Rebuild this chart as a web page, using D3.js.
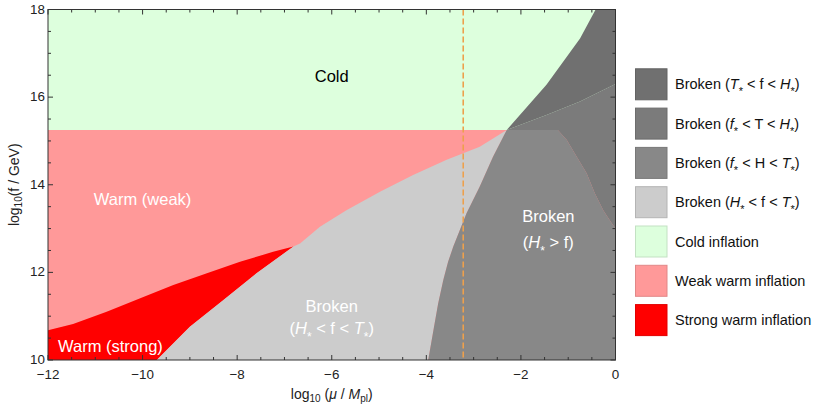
<!DOCTYPE html>
<html><head><meta charset="utf-8">
<script src="https://cdn.jsdelivr.net/npm/d3@7"></script>
<style>
html,body{margin:0;padding:0;background:#fff;}
text{font-family:"Liberation Sans",Arial,sans-serif;}
</style></head>
<body>
<svg id="chart" width="822" height="405"></svg>
<script>
// ---- data (x = log10(mu/Mpl), y = log10(f/GeV)) ----
const xDomain = [-12, 0];
const yDomain = [10, 18];
const xTicks = [-12, -10, -8, -6, -4, -2, 0];
const yTicks = [10, 12, 14, 16, 18];
const coldLevel = 15.25;               // cold / warm boundary
const muMarker = -3.22;                // dashed vertical line
// strong warm upper boundary
const strongUpper = [[-12,10.68],[-11.47,10.82],[-10.76,11.10],[-10.05,11.41],[-9.35,11.71],[-8.64,11.98],[-7.94,12.24],[-7.24,12.47],[-6.81,12.59]];
// upper boundary of the light-grey broken region (H* < f < T*)
const lightUpper = [[-9.70,10.0],[-9.0,10.76],[-8.29,11.37],[-7.59,11.98],[-6.81,12.59],[-6.67,12.66],[-6.25,13.04],[-5.69,13.42],[-4.98,13.84],[-4.28,14.22],[-3.57,14.57],[-3.22,14.72],[-2.87,14.87],[-2.30,15.25]];
const strongLowerCount = 5;  // first 5 points of lightUpper bound the strong region
// H* = f boundary
const hBoundary = [[-3.96,10],[-3.85,10.68],[-3.75,11.29],[-3.64,11.83],[-3.54,12.24],[-3.43,12.59],[-3.15,13.35],[-2.87,13.96],[-2.59,14.64],[-2.30,15.25]];
// T* = f boundary (darkest region, left edge)
const tBoundary = [[-2.30,15.25],[-1.46,16.28],[-0.75,17.34],[-0.42,18]];
// split between darkest and second darkest
const darkSplit = [[-2.30,15.25],[-1.46,15.59],[-0.75,15.90],[0,16.30]];
// curve bounding f* < T < H* below the cold level
const tempCurve = [[-1.22,15.25],[-1.03,15.02],[-0.82,14.64],[-0.61,14.26],[-0.44,13.81],[-0.26,13.42],[-0.08,13.12],[0,13.0]];

const legendLabels = [
  [["Broken ("],["T","i"],["*","s"],[" < f < "],["H","i"],["*","s"],[")"]],
  [["Broken ("],["f","i"],["*","s"],[" < T < "],["H","i"],["*","s"],[")"]],
  [["Broken ("],["f","i"],["*","s"],[" < H < "],["T","i"],["*","s"],[")"]],
  [["Broken ("],["H","i"],["*","s"],[" < f < "],["T","i"],["*","s"],[")"]],
  [["Cold inflation"]],
  [["Weak warm inflation"]],
  [["Strong warm inflation"]]
];
const legendColors = ["#707070","#7b7b7b","#888888","#cccccc","#ddffdd","#ff9999","#ff0000"];

// ---- layout ----
const svg = d3.select("#chart");
const L = 48, R = 615.5, T = 9.5, B = 360;
const x = d3.scaleLinear().domain(xDomain).range([L, R]);
const y = d3.scaleLinear().domain(yDomain).range([B, T]);
const line = d3.line().x(d => x(d[0])).y(d => y(d[1]));

const g = svg.append("g");
g.append("clipPath").attr("id","clip").append("rect").attr("x",L).attr("y",T).attr("width",R-L).attr("height",B-T);
const regions = g.append("g").attr("clip-path","url(#clip)");

// cold
regions.append("path").attr("fill", legendColors[4])
  .attr("d", line([[xDomain[0],coldLevel],[xDomain[1],coldLevel],[xDomain[1],yDomain[1]],[xDomain[0],yDomain[1]]]) + "Z");
// weak warm
regions.append("path").attr("fill", legendColors[5])
  .attr("d", line([[xDomain[0],yDomain[0]],[xDomain[1],yDomain[0]],[xDomain[1],coldLevel],[xDomain[0],coldLevel]]) + "Z");
// strong warm
const strongPoly = [[xDomain[0],yDomain[0]]].concat(strongUpper, lightUpper.slice(0,strongLowerCount).reverse());
regions.append("path").attr("fill", legendColors[6]).attr("d", line(strongPoly)+"Z");
// light broken
const lightPoly = lightUpper.concat(hBoundary.slice().reverse());
regions.append("path").attr("fill", legendColors[3]).attr("d", line(lightPoly)+"Z");
// f* < H < T*
const midPoly = hBoundary.concat(tempCurve, [[xDomain[1],yDomain[0]]]);
regions.append("path").attr("fill", legendColors[2]).attr("d", line(midPoly)+"Z");
// f* < T < H*
const dark2Poly = darkSplit.concat(tempCurve.slice().reverse());
regions.append("path").attr("fill", legendColors[1]).attr("d", line(dark2Poly)+"Z");
// T* < f < H*
const darkPoly = tBoundary.concat([[xDomain[1],yDomain[1]]], darkSplit.slice().reverse());
regions.append("path").attr("fill", legendColors[0]).attr("d", line(darkPoly)+"Z");

// dashed marker
regions.append("line").attr("x1",x(muMarker)).attr("x2",x(muMarker)).attr("y1",T).attr("y2",B)
  .attr("stroke","#eda04c").attr("stroke-width",1.6).attr("stroke-dasharray","6,3");

// text with italic parts and low-set star subscripts
function rich2(sel, parts, subSize, base){
  let sub = false;
  const d = base*0.42;
  parts.forEach(p => {
    const ts = sel.append("tspan").text(p[0]);
    if (p[1]==="i") ts.attr("font-style","italic");
    if (p[1]==="s") { ts.attr("font-size",subSize).attr("dy", d+"px"); sub = true; }
    else if (sub) { ts.attr("dy", (-d)+"px"); sub = false; }
  });
}

// region labels
const lab = g.append("g").attr("text-anchor","middle").attr("font-size","16.5px");
lab.append("text").attr("x",x(-6)).attr("y",y(16)-15).attr("fill","#000").text("Cold");
lab.append("text").attr("x",x(-10)).attr("y",y(13.5)-2).attr("fill","#fff").text("Warm (weak)");
lab.append("text").attr("x",x(-10.68)).attr("y",y(10.2)+1).attr("fill","#fff").text("Warm (strong)");
lab.append("text").attr("x",x(-6)).attr("y",y(11.1)+0.5).attr("fill","#fff").text("Broken");
const t2 = lab.append("text").attr("x",x(-6)).attr("y",y(10.6)).attr("fill","#fff");
rich2(t2, [["("],["H","i"],["*","s"],[" < f < "],["T","i"],["*","s"],[")"]], "12px", 16.5);
lab.append("text").attr("x",x(-1.42)).attr("y",y(13.2)+2).attr("fill","#fff").text("Broken");
const t4 = lab.append("text").attr("x",x(-1.42)).attr("y",y(12.6)+2).attr("fill","#fff");
rich2(t4, [["("],["H","i"],["*","s"],[" > f)"]], "12px", 16.5);

// frame & ticks
const frame = g.append("g").attr("stroke","#333").attr("fill","none");
frame.append("rect").attr("x",L).attr("y",T).attr("width",R-L).attr("height",B-T).attr("stroke-width",1);
const xMinor = d3.range(xDomain[0], xDomain[1]+0.001, 0.5);
const yMinor = d3.range(yDomain[0], yDomain[1]+0.001, 0.5);
xMinor.forEach(v => {
  const len = xTicks.includes(v) ? 5 : 3;
  frame.append("line").attr("x1",x(v)).attr("x2",x(v)).attr("y1",B).attr("y2",B-len);
  frame.append("line").attr("x1",x(v)).attr("x2",x(v)).attr("y1",T).attr("y2",T+len);
});
yMinor.forEach(v => {
  const len = yTicks.includes(v) ? 5 : 3;
  frame.append("line").attr("y1",y(v)).attr("y2",y(v)).attr("x1",L).attr("x2",L+len);
  frame.append("line").attr("y1",y(v)).attr("y2",y(v)).attr("x1",R).attr("x2",R-len);
});
const fmt = v => (v<0 ? "\u2212"+Math.abs(v) : String(v));
const tl = g.append("g").attr("font-size","13.4px").attr("fill","#222");
xTicks.forEach(v => tl.append("text").attr("x",x(v)).attr("y",B+18.5).attr("text-anchor","middle").text(fmt(v)));
yTicks.forEach(v => tl.append("text").attr("x",L-3).attr("y",y(v)+4).attr("text-anchor","end").text(fmt(v)));

// axis titles
const xt = g.append("text").attr("x",(L+R)/2).attr("y",399).attr("text-anchor","middle").attr("font-size","14px").attr("fill","#222");
[["log"],["10","s"],[" ("],["μ","i"],[" / "],["M","i"],["pl","s"],[")"]].forEach((p,i,arr)=>{
  const ts = xt.append("tspan").text(p[0]);
  if (p[1]==="i") ts.attr("font-style","italic");
  if (p[1]==="s") ts.attr("font-size","10px").attr("dy","3px");
  else if (i>0 && arr[i-1][1]==="s") ts.attr("dy","-3px");
});
const yt = g.append("text").attr("transform",`translate(19,${(T+B)/2}) rotate(-90)`).attr("text-anchor","middle").attr("font-size","14px").attr("fill","#222");
[["log"],["10","s"],["(f / GeV)"]].forEach((p,i,arr)=>{
  const ts = yt.append("tspan").text(p[0]);
  if (p[1]==="s") ts.attr("font-size","10px").attr("dy","3px");
  else if (i>0 && arr[i-1][1]==="s") ts.attr("dy","-3px");
});

// legend
const leg = svg.append("g");
const rowH = 39.3, sx = 635, sy = 68.3, sw = 32.5, sh = 32;
legendLabels.forEach((parts, i) => {
  const yy = sy + i*rowH;
  const c = legendColors[i];
  leg.append("rect").attr("x",sx+0.5).attr("y",yy+0.5).attr("width",sw-1).attr("height",sh-1)
    .attr("fill",c).attr("stroke",d3.color(c).darker(0.35)).attr("stroke-width",1);
  const t = leg.append("text").attr("x",675).attr("y",yy+sh/2+5).attr("font-size","14.5px").attr("fill","#111");
  rich2(t, parts, "11px", 14.5);
});
</script>
</body></html>
